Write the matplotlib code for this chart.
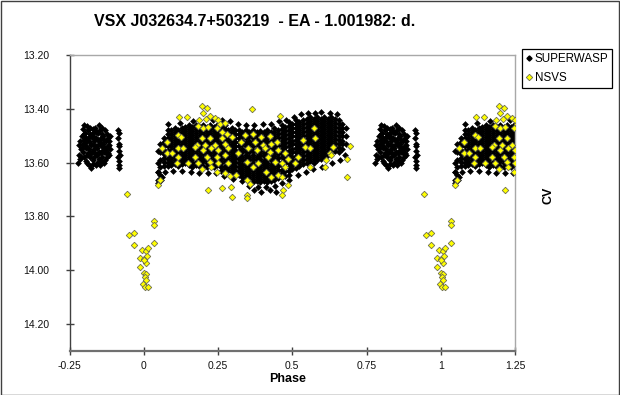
import matplotlib
matplotlib.use("Agg")
import matplotlib.pyplot as plt
from matplotlib.lines import Line2D
from matplotlib.patches import Rectangle

plt.rcParams["font.family"] = ["Liberation Sans", "DejaVu Sans"]

title = "VSX J032634.7+503219  - EA - 1.001982: d."
x_label = "Phase"
y_label = "CV"
x_ticks = [-0.25, 0, 0.25, 0.5, 0.75, 1, 1.25]
x_tick_labels = ["-0.25", "0", "0.25", "0.5", "0.75", "1", "1.25"]
y_ticks = [13.20, 13.40, 13.60, 13.80, 14.00, 14.20]
y_tick_labels = ["13.20", "13.40", "13.60", "13.80", "14.00", "14.20"]
series_names = ["SUPERWASP", "NSVS"]

# ---- SUPERWASP (phase, magnitude) ----
sw_cluster = [
    (-0.215, 13.52), (-0.212, 13.55), (-0.218, 13.57), (-0.220, 13.60), (-0.208, 13.50),
    (-0.205, 13.53), (-0.203, 13.56), (-0.200, 13.58), (-0.198, 13.49), (-0.196, 13.51),
    (-0.194, 13.54), (-0.192, 13.57), (-0.190, 13.60), (-0.188, 13.48), (-0.186, 13.52),
    (-0.184, 13.55), (-0.182, 13.58), (-0.180, 13.47), (-0.178, 13.50), (-0.176, 13.53),
    (-0.174, 13.56), (-0.172, 13.59), (-0.170, 13.49), (-0.168, 13.52), (-0.166, 13.55),
    (-0.164, 13.47), (-0.162, 13.51), (-0.160, 13.54), (-0.158, 13.57), (-0.156, 13.60),
    (-0.154, 13.49), (-0.152, 13.53), (-0.150, 13.56), (-0.148, 13.61), (-0.146, 13.48),
    (-0.144, 13.51), (-0.142, 13.54), (-0.140, 13.58), (-0.138, 13.50), (-0.136, 13.53),
    (-0.134, 13.56), (-0.132, 13.59), (-0.130, 13.48), (-0.128, 13.52), (-0.126, 13.55),
    (-0.124, 13.58), (-0.122, 13.51), (-0.120, 13.54), (-0.118, 13.57), (-0.116, 13.52),
    (-0.114, 13.55), (-0.112, 13.50), (-0.186, 13.61), (-0.176, 13.62), (-0.160, 13.61),
    (-0.200, 13.46), (-0.152, 13.46), (-0.142, 13.47), (-0.210, 13.58), (-0.168, 13.58),
    (-0.134, 13.60), (-0.206, 13.475), (-0.190, 13.465), (-0.172, 13.475), (-0.158, 13.485),
    (-0.202, 13.515), (-0.184, 13.505), (-0.166, 13.505), (-0.148, 13.525), (-0.196, 13.545),
    (-0.178, 13.565), (-0.156, 13.545), (-0.140, 13.555), (-0.128, 13.565), (-0.214, 13.585),
    (-0.217, 13.535), (-0.209, 13.545), (-0.201, 13.495), (-0.193, 13.525), (-0.187, 13.565),
    (-0.181, 13.495), (-0.179, 13.535), (-0.173, 13.505), (-0.169, 13.535), (-0.163, 13.565),
    (-0.161, 13.485), (-0.155, 13.515), (-0.151, 13.585), (-0.145, 13.535), (-0.143, 13.565),
    (-0.139, 13.495), (-0.133, 13.515), (-0.131, 13.545), (-0.125, 13.495), (-0.121, 13.565),
    (-0.117, 13.535), (-0.171, 13.605), (-0.145, 13.595), (-0.196, 13.595),
]
sw_column = [
    (-0.087, 13.48), (-0.083, 13.49), (-0.086, 13.51), (-0.082, 13.53), (-0.085, 13.54),
    (-0.084, 13.555), (-0.081, 13.57), (-0.086, 13.58), (-0.083, 13.595), (-0.084, 13.61),
    (-0.082, 13.62),
]
sw_band_phase = [
    0.048, 0.056, 0.068, 0.080, 0.092, 0.104, 0.116, 0.128, 0.140, 0.152,
    0.164, 0.176, 0.188, 0.200, 0.212, 0.224, 0.236, 0.248, 0.260, 0.272,
    0.284, 0.296, 0.308, 0.320, 0.332, 0.344, 0.356, 0.368, 0.380, 0.392,
    0.404, 0.416, 0.428, 0.440, 0.452, 0.464, 0.476, 0.488, 0.500, 0.512,
    0.524, 0.536, 0.548, 0.560, 0.572, 0.584, 0.596, 0.608, 0.620, 0.632,
    0.644, 0.656, 0.668, 0.680,
]
sw_band_mag = [
    [13.555, 13.600, 13.635, 13.665],
    [13.530, 13.560, 13.590, 13.615, 13.645],
    [13.508, 13.522, 13.538, 13.552, 13.567, 13.583, 13.597, 13.612],
    [13.480, 13.495, 13.510, 13.525, 13.540, 13.555, 13.570, 13.585, 13.600, 13.612],
    [13.478, 13.492, 13.508, 13.522, 13.538, 13.552, 13.568, 13.582, 13.598, 13.610],
    [13.471, 13.485, 13.501, 13.515, 13.529, 13.545, 13.560, 13.576, 13.590, 13.605],
    [13.477, 13.493, 13.507, 13.523, 13.537, 13.553, 13.567, 13.583, 13.597, 13.611],
    [13.470, 13.486, 13.500, 13.516, 13.530, 13.544, 13.561, 13.575, 13.591, 13.604],
    [13.468, 13.482, 13.498, 13.512, 13.528, 13.542, 13.558, 13.572, 13.588, 13.602],
    [13.460, 13.475, 13.490, 13.505, 13.520, 13.535, 13.550, 13.565, 13.580, 13.595, 13.610],
    [13.468, 13.482, 13.498, 13.512, 13.528, 13.542, 13.558, 13.572, 13.588, 13.602, 13.618],
    [13.461, 13.476, 13.489, 13.506, 13.519, 13.536, 13.549, 13.566, 13.579, 13.596, 13.609],
    [13.467, 13.483, 13.497, 13.513, 13.527, 13.543, 13.557, 13.573, 13.587, 13.603, 13.617],
    [13.459, 13.475, 13.491, 13.505, 13.521, 13.535, 13.551, 13.565, 13.581, 13.595, 13.611],
    [13.468, 13.482, 13.498, 13.512, 13.528, 13.542, 13.558, 13.572, 13.588, 13.602, 13.618],
    [13.460, 13.476, 13.490, 13.506, 13.520, 13.536, 13.550, 13.566, 13.580, 13.596, 13.610],
    [13.467, 13.483, 13.497, 13.513, 13.527, 13.543, 13.557, 13.573, 13.587, 13.603, 13.617],
    [13.460, 13.475, 13.490, 13.505, 13.520, 13.535, 13.550, 13.565, 13.580, 13.595, 13.610],
    [13.468, 13.482, 13.498, 13.512, 13.528, 13.542, 13.558, 13.572, 13.588, 13.602, 13.618, 13.630],
    [13.461, 13.475, 13.491, 13.505, 13.521, 13.535, 13.551, 13.565, 13.581, 13.595, 13.611, 13.625],
    [13.478, 13.492, 13.508, 13.522, 13.538, 13.552, 13.568, 13.582, 13.598, 13.612, 13.628],
    [13.470, 13.485, 13.500, 13.515, 13.530, 13.545, 13.560, 13.575, 13.590, 13.605, 13.620, 13.635],
    [13.478, 13.492, 13.508, 13.522, 13.538, 13.552, 13.568, 13.582, 13.598, 13.612, 13.628, 13.642],
    [13.480, 13.495, 13.510, 13.525, 13.540, 13.555, 13.570, 13.585, 13.600, 13.615, 13.630, 13.645],
    [13.488, 13.502, 13.518, 13.532, 13.548, 13.562, 13.578, 13.592, 13.608, 13.622, 13.638, 13.652],
    [13.480, 13.496, 13.510, 13.526, 13.540, 13.556, 13.570, 13.586, 13.600, 13.616, 13.630, 13.646, 13.660],
    [13.488, 13.502, 13.518, 13.532, 13.548, 13.562, 13.578, 13.592, 13.608, 13.622, 13.638, 13.653],
    [13.480, 13.495, 13.510, 13.525, 13.540, 13.555, 13.570, 13.585, 13.600, 13.615, 13.630, 13.645, 13.660, 13.672],
    [13.488, 13.502, 13.518, 13.532, 13.548, 13.562, 13.578, 13.592, 13.608, 13.622, 13.638, 13.652, 13.668],
    [13.481, 13.495, 13.511, 13.525, 13.541, 13.555, 13.571, 13.585, 13.601, 13.615, 13.631, 13.645, 13.661, 13.672],
    [13.487, 13.503, 13.517, 13.533, 13.547, 13.563, 13.577, 13.593, 13.607, 13.623, 13.637, 13.653, 13.667],
    [13.480, 13.495, 13.510, 13.525, 13.540, 13.555, 13.570, 13.585, 13.600, 13.615, 13.630, 13.645, 13.660, 13.671],
    [13.488, 13.502, 13.518, 13.532, 13.548, 13.562, 13.578, 13.592, 13.608, 13.622, 13.638, 13.652, 13.668],
    [13.470, 13.485, 13.500, 13.515, 13.530, 13.545, 13.560, 13.575, 13.590, 13.605, 13.620, 13.635, 13.650, 13.665],
    [13.478, 13.492, 13.508, 13.522, 13.538, 13.552, 13.568, 13.582, 13.598, 13.612, 13.628, 13.642, 13.658],
    [13.460, 13.476, 13.490, 13.506, 13.520, 13.536, 13.550, 13.566, 13.580, 13.596, 13.610, 13.626, 13.640, 13.655],
    [13.468, 13.482, 13.498, 13.512, 13.528, 13.542, 13.558, 13.572, 13.588, 13.602, 13.618, 13.632, 13.648],
    [13.450, 13.465, 13.480, 13.495, 13.510, 13.525, 13.540, 13.555, 13.570, 13.585, 13.600, 13.615, 13.630, 13.645],
    [13.458, 13.472, 13.488, 13.502, 13.518, 13.532, 13.548, 13.562, 13.578, 13.592, 13.608, 13.623],
    [13.440, 13.455, 13.470, 13.485, 13.500, 13.515, 13.530, 13.545, 13.560, 13.575, 13.590, 13.605, 13.620],
    [13.448, 13.462, 13.478, 13.492, 13.508, 13.522, 13.538, 13.552, 13.568, 13.582, 13.598, 13.613],
    [13.440, 13.456, 13.470, 13.486, 13.500, 13.516, 13.530, 13.546, 13.560, 13.576, 13.590, 13.605],
    [13.438, 13.452, 13.468, 13.482, 13.498, 13.512, 13.528, 13.542, 13.558, 13.572, 13.588, 13.603],
    [13.430, 13.445, 13.460, 13.475, 13.490, 13.505, 13.520, 13.535, 13.550, 13.565, 13.580, 13.595],
    [13.438, 13.452, 13.468, 13.482, 13.498, 13.512, 13.528, 13.542, 13.558, 13.572, 13.588, 13.602],
    [13.430, 13.446, 13.460, 13.476, 13.490, 13.506, 13.520, 13.536, 13.550, 13.566, 13.580, 13.590],
    [13.438, 13.452, 13.468, 13.482, 13.498, 13.512, 13.528, 13.542, 13.558, 13.572, 13.587],
    [13.430, 13.445, 13.460, 13.475, 13.490, 13.505, 13.520, 13.535, 13.550, 13.565, 13.580],
    [13.438, 13.452, 13.468, 13.482, 13.498, 13.512, 13.528, 13.542, 13.558, 13.573],
    [13.430, 13.446, 13.460, 13.476, 13.490, 13.506, 13.520, 13.536, 13.550, 13.566],
    [13.438, 13.452, 13.468, 13.482, 13.498, 13.512, 13.528, 13.542, 13.558],
    [13.440, 13.455, 13.470, 13.485, 13.500, 13.515, 13.530, 13.545, 13.560],
    [13.458, 13.472, 13.488, 13.502, 13.518, 13.532, 13.548],
    [13.470, 13.500, 13.530],
]
sw_scatter = [
    (0.083, 13.455), (0.121, 13.452), (0.165, 13.445), (0.232, 13.440), (0.262, 13.440),
    (0.289, 13.445), (0.318, 13.455), (0.345, 13.460), (0.372, 13.460), (0.401, 13.455),
    (0.430, 13.455), (0.455, 13.445), (0.478, 13.440), (0.505, 13.430), (0.530, 13.420),
    (0.552, 13.415), (0.575, 13.415), (0.598, 13.410), (0.626, 13.415), (0.650, 13.420),
    (0.049, 13.634), (0.060, 13.653), (0.057, 13.663), (0.049, 13.675), (0.070, 13.635),
    (0.098, 13.630), (0.130, 13.630), (0.158, 13.635), (0.187, 13.640), (0.215, 13.640),
    (0.244, 13.640), (0.270, 13.650), (0.300, 13.660), (0.330, 13.670), (0.356, 13.685),
    (0.372, 13.700), (0.384, 13.690), (0.396, 13.710), (0.413, 13.690), (0.424, 13.700),
    (0.446, 13.710), (0.441, 13.685), (0.466, 13.675), (0.490, 13.665), (0.518, 13.645),
    (0.545, 13.635), (0.570, 13.625), (0.600, 13.615), (0.635, 13.600), (0.660, 13.590),
    (0.676, 13.570),
]

# ---- NSVS (phase, magnitude) ----
nsvs_eclipse = [
    (-0.057, 13.717), (0.034, 13.817), (0.035, 13.830), (-0.050, 13.870), (-0.033, 13.863),
    (-0.034, 13.905), (0.035, 13.900), (-0.006, 13.925), (0.007, 13.927), (0.013, 13.918),
    (-0.013, 13.955), (0.002, 13.958), (0.012, 13.947), (0.006, 13.973), (0.000, 13.963),
    (-0.012, 13.986), (0.000, 14.011), (0.009, 14.015), (0.005, 14.025), (0.009, 14.037),
    (-0.001, 14.050), (0.005, 14.062), (0.013, 14.064), (0.049, 13.684), (0.055, 13.666),
]
nsvs_band = [
    (0.195, 13.390), (0.214, 13.396), (0.200, 13.417), (0.120, 13.430), (0.144, 13.430),
    (0.187, 13.442), (0.209, 13.438), (0.223, 13.426), (0.240, 13.433), (0.251, 13.440),
    (0.256, 13.458), (0.273, 13.454), (0.184, 13.464), (0.200, 13.473), (0.217, 13.467),
    (0.245, 13.473), (0.262, 13.485), (0.279, 13.492), (0.116, 13.498), (0.125, 13.504),
    (0.195, 13.510), (0.223, 13.510), (0.262, 13.510), (0.296, 13.504), (0.178, 13.533),
    (0.206, 13.535), (0.240, 13.535), (0.273, 13.529), (0.077, 13.523), (0.060, 13.547),
    (0.116, 13.547), (0.133, 13.547), (0.172, 13.541), (0.200, 13.554), (0.228, 13.547),
    (0.251, 13.554), (0.284, 13.547), (0.329, 13.523), (0.077, 13.566), (0.094, 13.566),
    (0.116, 13.578), (0.172, 13.578), (0.212, 13.578), (0.245, 13.578), (0.273, 13.572),
    (0.318, 13.566), (0.111, 13.603), (0.150, 13.603), (0.184, 13.603), (0.223, 13.597),
    (0.251, 13.603), (0.282, 13.603), (0.195, 13.622), (0.228, 13.616), (0.245, 13.634),
    (0.273, 13.640), (0.292, 13.650), (0.312, 13.647), (0.217, 13.700), (0.262, 13.696),
    (0.293, 13.690), (0.296, 13.727), (0.346, 13.720), (0.349, 13.730),
    (0.365, 13.401), (0.460, 13.426), (0.573, 13.473), (0.340, 13.498), (0.368, 13.495),
    (0.396, 13.504), (0.424, 13.500), (0.374, 13.523), (0.402, 13.535), (0.430, 13.529),
    (0.447, 13.523), (0.536, 13.516), (0.576, 13.510), (0.542, 13.541), (0.559, 13.545),
    (0.637, 13.541), (0.352, 13.547), (0.380, 13.554), (0.408, 13.547), (0.424, 13.560),
    (0.452, 13.554), (0.475, 13.566), (0.520, 13.578), (0.486, 13.585), (0.464, 13.603),
    (0.475, 13.616), (0.441, 13.597), (0.419, 13.578), (0.385, 13.603), (0.368, 13.616),
    (0.346, 13.597), (0.508, 13.603), (0.559, 13.616), (0.626, 13.566), (0.615, 13.591),
    (0.609, 13.616), (0.413, 13.634), (0.452, 13.647), (0.430, 13.653), (0.346, 13.665),
    (0.357, 13.678), (0.464, 13.653), (0.486, 13.684), (0.469, 13.702), (0.464, 13.721),
    (0.629, 13.570), (0.693, 13.539), (0.684, 13.585), (0.684, 13.653),
]

# ---- assemble ----
sw_points = (sw_cluster + sw_column
             + [(p, m) for p, ms in zip(sw_band_phase, sw_band_mag) for m in ms]
             + sw_scatter)
nsvs_points = nsvs_eclipse + nsvs_band


def wrap(points):
    # phased light curve shown over 1.5 cycles: repeat every point one cycle later
    return points + [(p + 1.0, m) for p, m in points if p + 1.0 <= 1.27]


sw_x, sw_y = zip(*wrap(sw_points))
ns_x, ns_y = zip(*wrap(nsvs_points))

W, H = 620, 395
fig = plt.figure(figsize=(W / 100, H / 100), dpi=100)
fig.patch.set_facecolor("white")
ax = fig.add_axes([69.5 / W, 1 - 351 / H, (515 - 69.5) / W, (351 - 55) / H])

ax.plot(sw_x, sw_y, linestyle="none", marker="D", markersize=3.0,
        markerfacecolor="black", markeredgecolor="black", markeredgewidth=0.4,
        zorder=2)
ax.plot(ns_x, ns_y, linestyle="none", marker="D", markersize=3.3,
        markerfacecolor="#ffff00", markeredgecolor="#6e6e50", markeredgewidth=0.6,
        zorder=3)

ax.set_xlim(-0.25, 1.25)
ax.set_ylim(14.30, 13.20)
ax.set_xticks(x_ticks)
ax.set_xticklabels(x_tick_labels)
ax.set_yticks(y_ticks)
ax.set_yticklabels(y_tick_labels)

for side in ("top", "right"):
    ax.spines[side].set_color("#a8a8a8")
    ax.spines[side].set_linewidth(1.0)
ax.spines["left"].set_color("#404040")
ax.spines["left"].set_linewidth(1.0)
ax.spines["bottom"].set_color("#707070")
ax.spines["bottom"].set_linewidth(1.6)

ax.tick_params(axis="x", direction="inout", length=5.8, width=1.0,
               color="#404040", labelsize=7.5, pad=4.0, labelcolor="#111111")
ax.tick_params(axis="y", direction="inout", length=5.5, width=1.0,
               color="#404040", labelsize=7.5, pad=11.6, labelcolor="#111111")

fig.text(254.5 / W, 1 - 26.5 / H, title, ha="center", va="baseline",
         fontsize=11.5, fontweight="bold")
fig.text(288 / W, 1 - 379 / H, x_label, ha="center", va="center",
         fontsize=9, fontweight="bold")
fig.text(548 / W, 1 - 195 / H, y_label, ha="center", va="center",
         rotation=90, fontsize=9, fontweight="bold")

handles = [
    Line2D([], [], linestyle="none", marker="D", markersize=2.6,
           markerfacecolor="black", markeredgecolor="black", label=series_names[0]),
    Line2D([], [], linestyle="none", marker="D", markersize=3.3,
           markerfacecolor="#ffff00", markeredgecolor="#6e6e50",
           markeredgewidth=0.6, label=series_names[1]),
]
leg = fig.legend(handles=handles, loc="upper left",
                 bbox_to_anchor=(521.7 / W, 1 - 49.3 / H),
                 bbox_transform=fig.transFigure, fontsize=8.4,
                 frameon=True, fancybox=False, framealpha=1, edgecolor="black",
                 borderpad=0.35, handlelength=0.5, handletextpad=0.25,
                 labelspacing=0.55, borderaxespad=0)
leg.get_frame().set_linewidth(0.9)

fig.patches.append(Rectangle((0.5 / W, 0.5 / H), 1 - 1.5 / W, 1 - 1.5 / H,
                             transform=fig.transFigure, fill=False,
                             edgecolor="#404040", linewidth=1.0))

fig.savefig("out.png", dpi=100, facecolor="white")
